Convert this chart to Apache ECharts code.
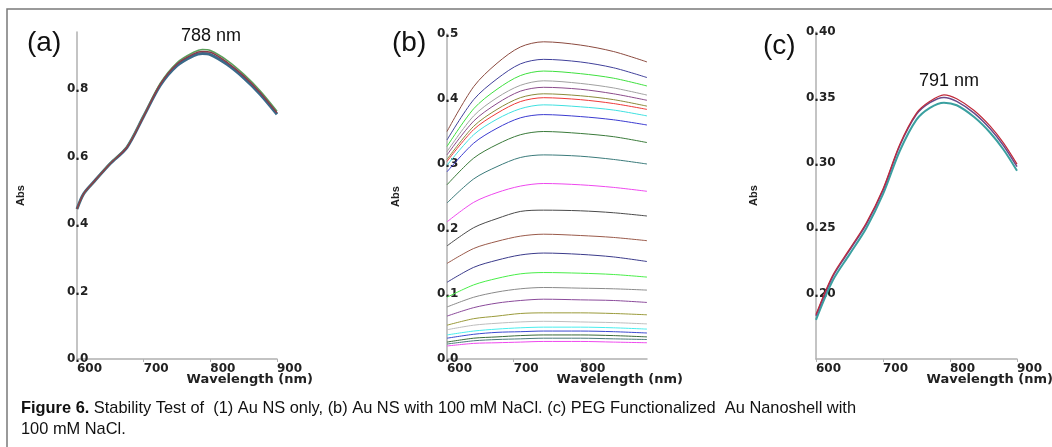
<!DOCTYPE html>
<html>
<head>
<meta charset="utf-8">
<script src="https://cdn.jsdelivr.net/npm/echarts@6/dist/echarts.min.js"></script>
<style>
  html, body { margin: 0; padding: 0; background: #fff; }
  #chart { width: 1052px; height: 447px; }
</style>
</head>
<body>
<div id="chart"></div>
<script>
// (a) Au NS only - a few overlapping scans
var waveA = [600, 610, 625, 650, 675, 700, 725, 750, 775, 788, 800, 825, 850, 875, 900]
var absA1 = [0.445, 0.49, 0.525, 0.58, 0.628, 0.72, 0.815, 0.875, 0.905, 0.912, 0.91, 0.88, 0.84, 0.79, 0.73]
var absA2 = [0.445, 0.49, 0.525, 0.58, 0.628, 0.72, 0.812, 0.87, 0.9, 0.906, 0.903, 0.874, 0.834, 0.785, 0.726]
var absA3 = [0.445, 0.49, 0.525, 0.581, 0.63, 0.722, 0.818, 0.879, 0.91, 0.918, 0.915, 0.886, 0.845, 0.795, 0.735]

// (b) Au NS with 100 mM NaCl - one scan per row, top to bottom
var waveB = [600, 640, 675, 710, 745, 800, 850, 900]
var absB = [
  [0.350, 0.419, 0.455, 0.480, 0.488, 0.483, 0.473, 0.457],
  [0.337, 0.399, 0.431, 0.454, 0.461, 0.457, 0.448, 0.433],
  [0.327, 0.385, 0.415, 0.436, 0.443, 0.439, 0.432, 0.420],
  [0.319, 0.374, 0.402, 0.421, 0.428, 0.424, 0.417, 0.406],
  [0.314, 0.366, 0.393, 0.412, 0.418, 0.415, 0.408, 0.398],
  [0.307, 0.358, 0.384, 0.402, 0.408, 0.405, 0.399, 0.389],
  [0.304, 0.353, 0.378, 0.396, 0.402, 0.399, 0.393, 0.384],
  [0.298, 0.345, 0.369, 0.385, 0.391, 0.388, 0.383, 0.374],
  [0.288, 0.332, 0.355, 0.371, 0.376, 0.373, 0.368, 0.360],
  [0.268, 0.309, 0.330, 0.345, 0.350, 0.347, 0.342, 0.333],
  [0.240, 0.277, 0.296, 0.310, 0.314, 0.312, 0.307, 0.300],
  [0.211, 0.241, 0.256, 0.266, 0.270, 0.268, 0.264, 0.258],
  [0.174, 0.202, 0.216, 0.227, 0.229, 0.228, 0.225, 0.220],
  [0.147, 0.170, 0.181, 0.189, 0.192, 0.190, 0.187, 0.182],
  [0.118, 0.141, 0.152, 0.160, 0.163, 0.161, 0.157, 0.150],
  [0.095, 0.114, 0.124, 0.131, 0.133, 0.132, 0.130, 0.126],
  [0.080, 0.095, 0.103, 0.108, 0.110, 0.109, 0.108, 0.106],
  [0.066, 0.079, 0.086, 0.090, 0.092, 0.091, 0.090, 0.087],
  [0.052, 0.062, 0.066, 0.070, 0.071, 0.071, 0.070, 0.068],
  [0.045, 0.052, 0.055, 0.057, 0.058, 0.057, 0.056, 0.054],
  [0.037, 0.043, 0.046, 0.048, 0.049, 0.049, 0.048, 0.046],
  [0.032, 0.038, 0.041, 0.042, 0.043, 0.043, 0.042, 0.040],
  [0.026, 0.032, 0.034, 0.036, 0.037, 0.037, 0.036, 0.034],
  [0.023, 0.028, 0.030, 0.031, 0.032, 0.032, 0.031, 0.030],
  [0.020, 0.024, 0.025, 0.026, 0.027, 0.027, 0.026, 0.025]
]
var colorsB = ['#8b4a3f', '#40409a', '#3ee03e', '#a0a0a0', '#8a4a8a', '#8a8a3a', '#ee3838',
  '#3ee0e0', '#3a3ad0', '#3a7a3a', '#3a7a7a', '#ee48ee', '#4a4a4a', '#9a5a4a', '#3a3a8a',
  '#48ee48', '#8a8a8a', '#8a4a9a', '#9a9a3a', '#bdbdbd', '#48eeee', '#3a48d0', '#3a6a3a',
  '#4a7a7a', '#ee48ee']

// (c) PEG functionalized Au nanoshell with 100 mM NaCl
var waveC = [600, 625, 650, 675, 700, 725, 750, 770, 791, 810, 836, 860, 880, 900]
var absC1 = [0.184, 0.214, 0.234, 0.254, 0.280, 0.314, 0.338, 0.347, 0.352, 0.349, 0.340, 0.328, 0.315, 0.299]
var absC2 = [0.183, 0.213, 0.233, 0.253, 0.279, 0.313, 0.337, 0.346, 0.350, 0.347, 0.338, 0.326, 0.313, 0.297]
var absC3 = [0.180, 0.210, 0.230, 0.250, 0.276, 0.309, 0.333, 0.342, 0.346, 0.344, 0.335, 0.323, 0.310, 0.294]

var BOLD = { fontFamily: 'DejaVu Sans', fontWeight: 'bold', fontSize: 12, color: '#222' }
var AXIS_LINE = { lineStyle: { color: '#b0b0b0', width: 1.5 } }

function pairs(xs, ys) {
  return xs.map(function (x, i) { return [x, ys[i]] })
}

function xAxisFor(idx, showMax) {
  return {
    type: 'value', gridIndex: idx, min: 600, max: 900, interval: 100,
    axisLine: AXIS_LINE,
    axisTick: { show: true, length: 3, lineStyle: { color: '#b0b0b0' } },
    splitLine: { show: false },
    axisLabel: Object.assign({ align: 'left', margin: 4, showMaxLabel: showMax }, BOLD)
  }
}

function yAxisFor(idx, min, max, interval, digits, gap, extra) {
  return {
    type: 'value', gridIndex: idx, min: min, max: max, interval: interval,
    axisLine: Object.assign({ show: true }, AXIS_LINE),
    axisTick: { show: false },
    splitLine: { show: false },
    axisLabel: Object.assign({
      align: 'left', margin: 10,
      showMinLabel: extra.showMin, showMaxLabel: extra.showMax,
      formatter: function (v) { return v.toFixed(digits) }
    }, BOLD),
    name: 'Abs',
    nameLocation: 'middle',
    nameRotate: 90,
    nameGap: gap,
    nameTextStyle: { fontFamily: 'Liberation Sans', fontWeight: 'bold', fontSize: 11, color: '#222' }
  }
}

function line(idx, xs, ys, color, width) {
  return {
    type: 'line', xAxisIndex: idx, yAxisIndex: idx,
    data: pairs(xs, ys), showSymbol: false, smooth: 0.3, silent: true,
    lineStyle: { color: color, width: width }
  }
}

// 'Wavelength (nm)' sits under the right end of each x axis
function xName(right) {
  return {
    type: 'text', x: right, y: 380,
    style: { text: 'Wavelength (nm)', font: 'bold 13px "DejaVu Sans"', fill: '#222', align: 'right', verticalAlign: 'middle' }
  }
}

var series = [
  line(0, waveA, absA2, '#3a6a8a', 3),
  line(0, waveA, absA3, '#5aa05a', 1.5),
  line(0, waveA, absA1, '#8a3a4a', 1.5)
]
absB.forEach(function (ys, i) {
  series.push(line(1, waveB, ys, colorsB[i], 1))
})
series.push(line(2, waveC, absC3, '#3aa0a0', 2))
series.push(line(2, waveC, absC2, '#6a4a8a', 1.5))
series.push(line(2, waveC, absC1, '#c02a3a', 1.2))

var chart = echarts.init(document.getElementById('chart'))
chart.setOption({
  animation: false,
  grid: [
    { left: 77, width: 200, top: 32, height: 327, outerBoundsMode: 'none' },
    { left: 447, width: 200, top: 34, height: 325, outerBoundsMode: 'none' },
    { left: 816, width: 201, top: 32, height: 327, outerBoundsMode: 'none' }
  ],
  xAxis: [xAxisFor(0, true), xAxisFor(1, false), xAxisFor(2, true)],
  yAxis: [
    yAxisFor(0, 0, 0.97, 0.2, 1, 51, { showMin: true, showMax: false }),
    yAxisFor(1, 0, 0.5, 0.1, 1, 46, { showMin: true, showMax: true }),
    yAxisFor(2, 0.15, 0.4, 0.05, 2, 57, { showMin: false, showMax: true })
  ],
  series: series,
  graphic: [
    { type: 'rect', shape: { x: 7, y: 9, width: 1100, height: 500 }, style: { fill: 'none', stroke: '#7a7a7a', lineWidth: 1.5 }, silent: true },
    { type: 'text', x: 27, y: 43, style: { text: '(a)', font: '28px "Liberation Sans"', fill: '#111', verticalAlign: 'middle' } },
    { type: 'text', x: 392, y: 43, style: { text: '(b)', font: '28px "Liberation Sans"', fill: '#111', verticalAlign: 'middle' } },
    { type: 'text', x: 763, y: 46, style: { text: '(c)', font: '28px "Liberation Sans"', fill: '#111', verticalAlign: 'middle' } },
    { type: 'text', x: 211, y: 36, style: { text: '788 nm', font: '18px "Liberation Sans"', fill: '#111', align: 'center', verticalAlign: 'middle' } },
    { type: 'text', x: 949, y: 81, style: { text: '791 nm', font: '18px "Liberation Sans"', fill: '#111', align: 'center', verticalAlign: 'middle' } },
    xName(313), xName(683), xName(1053),
    {
      type: 'text', x: 21, y: 408,
      style: {
        text: '{b|Figure 6.} Stability Test of  (1) Au NS only, (b) Au NS with 100 mM NaCl. (c) PEG Functionalized  Au Nanoshell with',
        font: '16.4px "Liberation Sans"', fill: '#111', verticalAlign: 'middle',
        rich: { b: { fontFamily: 'Liberation Sans', fontWeight: 'bold', fontSize: 16.4, fill: '#111' } }
      }
    },
    { type: 'text', x: 21, y: 429, style: { text: '100 mM NaCl.', font: '16.4px "Liberation Sans"', fill: '#111', verticalAlign: 'middle' } }
  ]
})
</script>
</body>
</html>
